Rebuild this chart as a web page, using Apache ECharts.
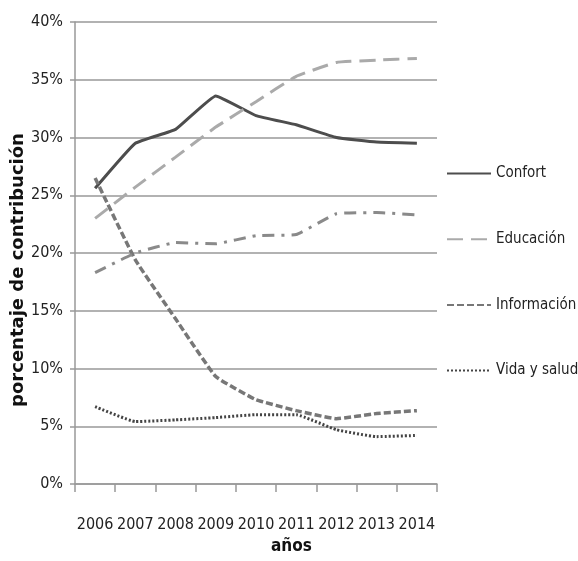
<!DOCTYPE html>
<html>
<head>
<meta charset="utf-8">
<script src="https://cdn.jsdelivr.net/npm/echarts@6/dist/echarts.min.js"></script>
<style>
  html, body { margin: 0; padding: 0; background: #fff; }
  #chart { width: 578px; height: 561px; }
</style>
</head>
<body>
<div id="chart"></div>
<script>
var years = ['2006', '2007', '2008', '2009', '2010', '2011', '2012', '2013', '2014'];

// valores en %
var confort = [25.6, 29.5, 30.7, 33.6, 31.9, 31.1, 30.0, 29.6, 29.5];
var educacion = [23.0, 25.7, 28.3, 30.9, 33.1, 35.3, 36.5, 36.7, 36.85];
var informacion = [26.5, 19.4, 14.3, 9.3, 7.3, 6.35, 5.65, 6.1, 6.35];
var vidaSalud = [6.7, 5.4, 5.55, 5.75, 6.0, 6.0, 4.7, 4.1, 4.2];
var otros = [18.3, 20.0, 20.9, 20.8, 21.5, 21.6, 23.4, 23.5, 23.3];

var legendNames = ['Confort', 'Educación', 'Información', 'Vida y salud'];

var narrow = '"DejaVu Sans Condensed", "Liberation Sans", sans-serif';

var chart = echarts.init(document.getElementById('chart'));

function serie(name, data, color, type, width) {
    return {
        name: name,
        type: 'line',
        data: data,
        symbol: 'none',
        smooth: 0.1,
        lineStyle: { color: color, width: width, type: type },
        itemStyle: { color: color },
        z: 3
    };
}

chart.setOption({
    animation: false,
    grid: { left: 75, right: 141, top: 22, bottom: 77 },
    legend: {
        data: legendNames,
        orient: 'vertical',
        left: 446,
        top: 166,
        padding: 0,
        itemWidth: 44,
        itemHeight: 14,
        itemGap: 50.7,
        itemStyle: { color: 'rgba(0,0,0,0)', borderWidth: 0, opacity: 0 },
        textStyle: { fontFamily: narrow, fontSize: 15, color: '#222' }
    },
    xAxis: {
        type: 'category',
        data: years,
        boundaryGap: true,
        axisLine: { lineStyle: { color: '#999', width: 1.5 } },
        axisTick: { show: true, length: 8, lineStyle: { color: '#999', width: 1.5 } },
        axisLabel: { fontFamily: narrow, fontSize: 16, color: '#222', margin: 33, interval: 0 }
    },
    yAxis: {
        type: 'value',
        min: 0,
        max: 40,
        interval: 5,
        axisLine: { show: true, lineStyle: { color: '#999', width: 1.5 } },
        axisTick: { show: true, length: 5, lineStyle: { color: '#999', width: 1.5 } },
        splitLine: { lineStyle: { color: '#999', width: 1.5 } },
        axisLabel: {
            fontFamily: narrow, fontSize: 16, color: '#222', margin: 12,
            formatter: function (v) { return v + '%'; }
        }
    },
    graphic: [
        {
            type: 'text',
            left: 271,
            top: 538,
            style: { text: 'años', font: 'bold 17px "DejaVu Sans Condensed", "DejaVu Sans", sans-serif', fill: '#111' }
        },
        {
            type: 'text',
            x: 18,
            y: 270,
            rotation: Math.PI / 2,
            style: {
                text: 'porcentaje de contribución',
                font: 'bold 18px "DejaVu Sans", sans-serif',
                fill: '#111',
                align: 'center',
                verticalAlign: 'middle'
            }
        }
    ],
    series: [
        serie('Confort', confort, '#4d4d4d', 'solid', 3),
        serie('Educación', educacion, '#aaaaaa', [16, 8], 3),
        serie('Información', informacion, '#777777', [7, 3], 3.5),
        serie('Vida y salud', vidaSalud, '#444444', [2, 2], 3),
        serie('Otros', otros, '#8a8a8a', [12, 7, 3, 7], 3)
    ]
});
</script>
</body>
</html>
